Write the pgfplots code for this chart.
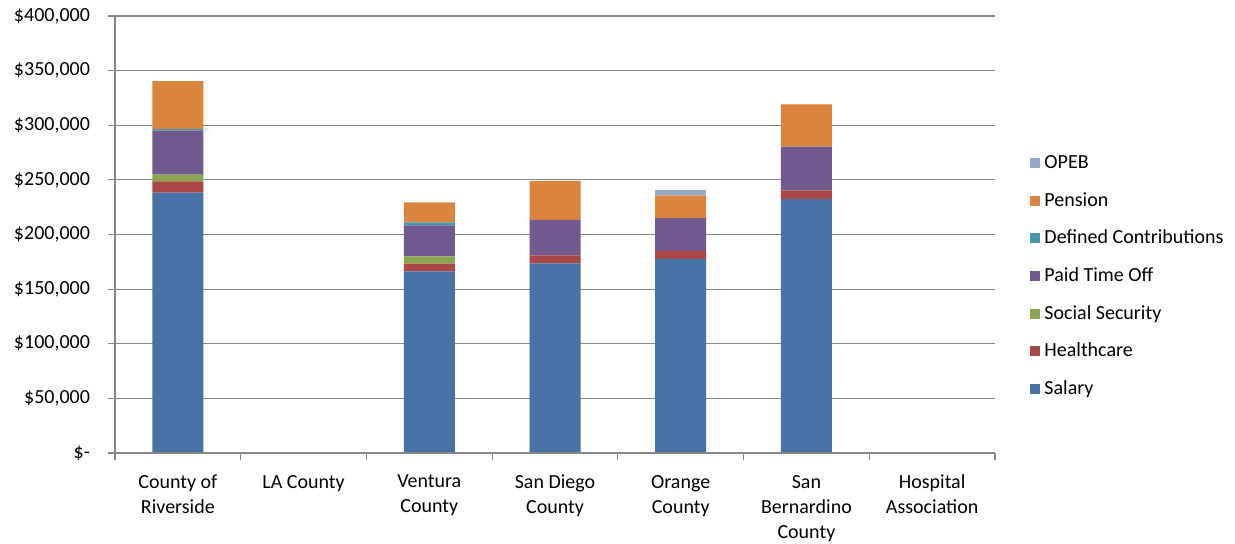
\documentclass[border=0pt]{standalone}
\usepackage{pgfplots}
\pgfplotsset{compat=1.18}
\usepackage{fontspec}
\setmainfont{Carlito}
\definecolor{cSal}{RGB}{69,114,167}
\definecolor{cHC}{RGB}{170,70,67}
\definecolor{cSS}{RGB}{137,165,78}
\definecolor{cPTO}{RGB}{113,88,143}
\definecolor{cDC}{RGB}{65,152,175}
\definecolor{cPen}{RGB}{219,132,61}
\definecolor{cOPEB}{RGB}{147,169,207}
\definecolor{axgray}{RGB}{134,134,134}
\begin{document}
\begin{tikzpicture}
\begin{axis}[
  set layers,
  scale only axis, width=440pt, height=218.5pt,
  at={(0,0)}, anchor=south west,
  ybar stacked, bar width=25.5pt,
  xmin=-0.5, xmax=6.5, ymin=0, ymax=400000,
  scaled y ticks=false,
  axis line style={draw=none},
  xtick pos=bottom, ytick pos=left,
  tick align=outside,
  xtick={0.5,1.5,2.5,3.5,4.5,5.5}, xticklabels={},
  major tick length=3.5pt,
  tick style={draw=axgray, line width=0.6pt},
  extra x ticks={0,1,2,3,4,5,6},
  extra x tick labels={County of\\Riverside, LA County, Ventura\\County, San Diego\\County, Orange\\County, San\\Bernardino\\County, Hospital\\Association},
  extra x tick style={major tick length=0pt, grid=none,
     tick label style={align=center, font=\fontsize{10}{12.5}\selectfont, yshift=-7.5pt}},
  ytick={0,50000,100000,150000,200000,250000,300000,350000,400000},
  yticklabels={\$-\hspace{5pt}, \$50{,}000, \$100{,}000, \$150{,}000, \$200{,}000, \$250{,}000, \$300{,}000, \$350{,}000, \$400{,}000},
  yticklabel style={font=\fontsize{10}{12}\selectfont, xshift=-5.5pt},
  reverse legend,
  legend cell align=left,
  legend style={at={(1.033,0.404)}, anchor=west, draw=none, fill=none,
     font=\fontsize{10}{12}\selectfont, row sep=6.4pt},
  legend image code/.code={\fill[#1] (0pt,-2.5pt) rectangle (5pt,2.5pt);},
  every axis plot/.append style={draw=none},
  after end axis/.code={
    \pgfplotsonlayer{axis grid}
      \foreach \g in {0.125,0.25,0.375,0.5,0.625,0.75,0.875,1}{
        \draw[axgray, line width=0.6pt] (rel axis cs:0,\g) -- (rel axis cs:1,\g);
      }
    \endpgfplotsonlayer
    \draw[axgray, line width=0.6pt] (rel axis cs:0,1) -- (rel axis cs:0,0) -- (rel axis cs:1,0);
    \draw[axgray, line width=0.6pt] (rel axis cs:0,0) -- ++(0,-3.5pt);
    \draw[axgray, line width=0.6pt] (rel axis cs:1,0) -- ++(0,-3.5pt);
  },
]
\addplot[fill=cSal] coordinates {(0,238300) (2,166300) (3,173600) (4,177600) (5,232500)};
\addlegendentry{Salary}
\addplot[fill=cHC] coordinates {(0,10400) (2,7000) (3,7400) (4,7300) (5,7900)};
\addlegendentry{Healthcare}
\addplot[fill=cSS] coordinates {(0,6000) (2,6700) (3,0) (4,0) (5,0)};
\addlegendentry{Social Security}
\addplot[fill=cPTO] coordinates {(0,40300) (2,28400) (3,32500) (4,30200) (5,40000)};
\addlegendentry{Paid Time Off}
\addplot[fill=cDC] coordinates {(0,1500) (2,2700) (3,0) (4,0) (5,0)};
\addlegendentry{Defined Contributions}
\addplot[fill=cPen] coordinates {(0,44000) (2,18300) (3,35500) (4,20800) (5,38800)};
\addlegendentry{Pension}
\addplot[fill=cOPEB] coordinates {(0,0) (2,0) (3,0) (4,4500) (5,0)};
\addlegendentry{OPEB}
\end{axis}
\pgfresetboundingbox
\path[use as bounding box] (-57.5pt,-45pt) rectangle (560pt,226.5pt);
\end{tikzpicture}
\end{document}
